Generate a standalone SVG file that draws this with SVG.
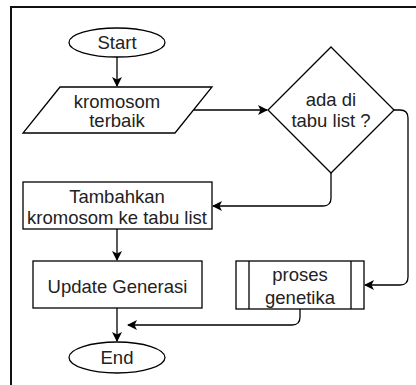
<svg xmlns="http://www.w3.org/2000/svg" width="416" height="385" viewBox="0 0 416 385">
<defs>
<marker id="ah" viewBox="0 0 10 10" refX="9" refY="5" markerWidth="10" markerHeight="10" markerUnits="userSpaceOnUse" orient="auto">
<path d="M0,0 L10,5 L0,10 L2.5,5 Z" fill="#000"/>
</marker>
<style>
.shape{fill:#fff;stroke:#000;stroke-width:1.3}
.edge{fill:none;stroke:#000;stroke-width:1.3;marker-end:url(#ah)}
text{font-family:"Liberation Sans",Arial,sans-serif;font-size:18.5px;fill:#222;text-anchor:middle}
</style>
</defs>
<rect width="416" height="385" fill="#fff"/>
<path d="M11,385 V7 H416" fill="none" stroke="#111" stroke-width="2"/>
<g id="start">
<ellipse class="shape" cx="117" cy="42.5" rx="48" ry="14.5"/>
<text x="117" y="49">Start</text>
</g>
<g id="input">
<polygon class="shape" points="60,87 212,87 175,133 23,133"/>
<text x="117" y="108">kromosom</text>
<text x="117" y="127">terbaik</text>
</g>
<g id="decision">
<polygon class="shape" points="331,47 394,110 331,173 268,110"/>
<text x="331" y="106">ada di</text>
<text x="331" y="127">tabu list ?</text>
</g>
<g id="tambah">
<rect class="shape" x="23" y="182" width="189" height="47"/>
<text x="117" y="203">Tambahkan</text>
<text x="117" y="224">kromosom ke tabu list</text>
</g>
<g id="update">
<rect class="shape" x="33" y="261" width="169" height="47"/>
<text x="117.5" y="293">Update Generasi</text>
</g>
<g id="proses">
<rect class="shape" x="236" y="261" width="128" height="48"/>
<line x1="249" y1="261" x2="249" y2="309" stroke="#000" stroke-width="1.3"/>
<line x1="351" y1="261" x2="351" y2="309" stroke="#000" stroke-width="1.3"/>
<text x="300" y="281">proses</text>
<text x="300" y="304">genetika</text>
</g>
<g id="end">
<ellipse class="shape" cx="117" cy="357.5" rx="48" ry="15.5"/>
<text x="117" y="364">End</text>
</g>
<g id="connectors">
<path class="edge" d="M117,57 V86"/>
<path class="edge" d="M194,110 H267"/>
<path class="edge" d="M394,110 H400 Q408,110 408,118 V277 Q408,285 400,285 H365"/>
<path class="edge" d="M331,173 V198 Q331,206 323,206 H213"/>
<path class="edge" d="M117,229 V260"/>
<path class="edge" d="M117,308 V341"/>
<path class="edge" d="M300,309 V317 Q300,325 292,325 H128"/>
</g>
</svg>
